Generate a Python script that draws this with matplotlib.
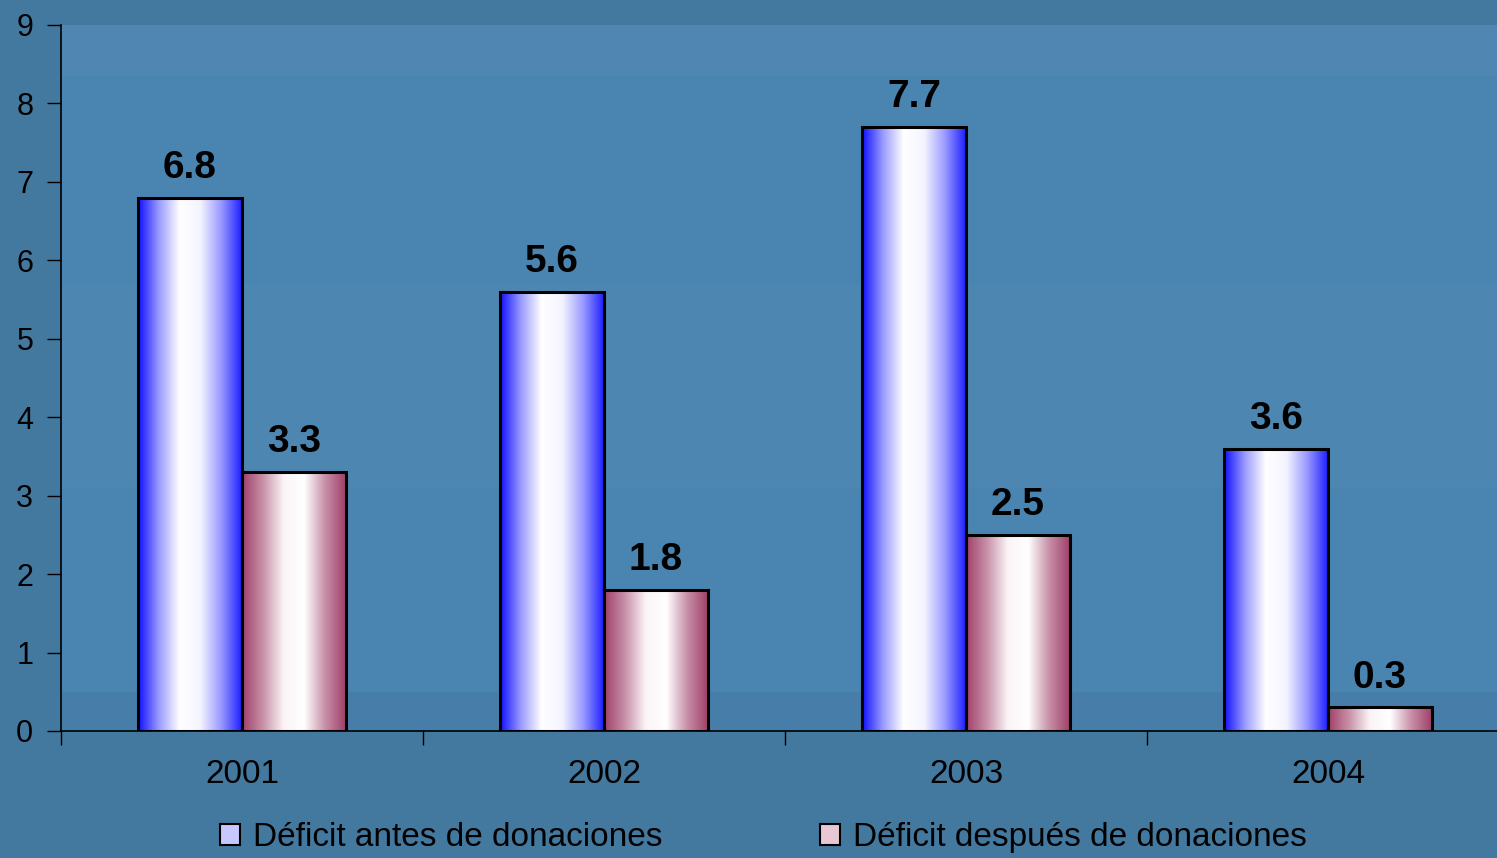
import numpy as np
import matplotlib
matplotlib.use("Agg")
import matplotlib.pyplot as plt
from matplotlib.colors import LinearSegmentedColormap
from matplotlib.patches import Patch

# datos
years = ["2001", "2002", "2003", "2004"]
antes = [6.8, 5.6, 7.7, 3.6]
despues = [3.3, 1.8, 2.5, 0.3]
series_names = ["Déficit antes de donaciones", "Déficit después de donaciones"]

plt.rcParams['font.family'] = ['Liberation Sans', 'DejaVu Sans']

bg = '#4a84b0'
fig = plt.figure(figsize=(14.97, 8.58), dpi=100, facecolor='#44799f')
ax = fig.add_axes([61 / 1497, 1 - 731 / 858, 1448 / 1497, 706 / 858])
ax.set_facecolor(bg)

# bandas suaves del fondo
ax.axhspan(8.35, 9.0, color='white', alpha=0.03, lw=0, zorder=0)
ax.axhspan(3.1, 5.7, color='white', alpha=0.02, lw=0, zorder=0)
ax.axhspan(0, 0.5, color='black', alpha=0.04, lw=0, zorder=0)

blue_cmap = LinearSegmentedColormap.from_list('b', ['#1010ff', '#9a9aff', '#ffffff', '#f4f4ff', '#9a9aff', '#2020ff'])
red_cmap = LinearSegmentedColormap.from_list('r', ['#a0406a', '#c890a8', '#fbf4f6', '#ffffff', '#c890a8', '#a0406a'])
grad = np.linspace(0, 1, 256).reshape(1, -1)

w = 0.287
x = np.arange(len(years))

for i in range(len(years)):
    for left, val, cmap in [(x[i] - w, antes[i], blue_cmap), (x[i], despues[i], red_cmap)]:
        ax.imshow(grad, cmap=cmap, aspect='auto', extent=[left, left + w, 0, val],
                  interpolation='bilinear', zorder=2)
        ax.add_patch(plt.Rectangle((left, 0), w, val, fill=False, ec='black', lw=2.2, zorder=3))
        ax.text(left + w / 2, val + 0.15, f"{val:.1f}", ha='center', va='bottom',
                fontsize=28, fontweight='bold', color='black', zorder=4)

ax.set_xlim(-0.5, len(years) - 0.5)
ax.set_ylim(0, 9)

ax.set_yticks(range(0, 10))
ax.tick_params(axis='y', labelsize=22, length=10, width=1, direction='out', pad=10, colors='black')
ax.set_xticks(x)
ax.set_xticklabels(years, fontsize=24)
ax.tick_params(axis='x', length=0, pad=20)
ax.set_xticks(np.arange(-0.5, len(years)), minor=True)
ax.tick_params(axis='x', which='minor', length=10, width=1, direction='out')

for s in ['top', 'right']:
    ax.spines[s].set_visible(False)
ax.spines['left'].set_linewidth(1.2)
ax.spines['bottom'].set_linewidth(1.2)

handles = [Patch(facecolor='#c8c8ff', edgecolor='black', lw=1.5),
           Patch(facecolor='#e8c8d4', edgecolor='black', lw=1.5)]
fig.legend(handles, series_names, loc='center', bbox_to_anchor=(0.51, 0.024), ncol=2,
           frameon=False, fontsize=24, handlelength=0.6, handleheight=0.6,
           handletextpad=0.4, columnspacing=4.7, borderpad=0.2)

fig.savefig('out.png', dpi=100, facecolor=fig.get_facecolor())
